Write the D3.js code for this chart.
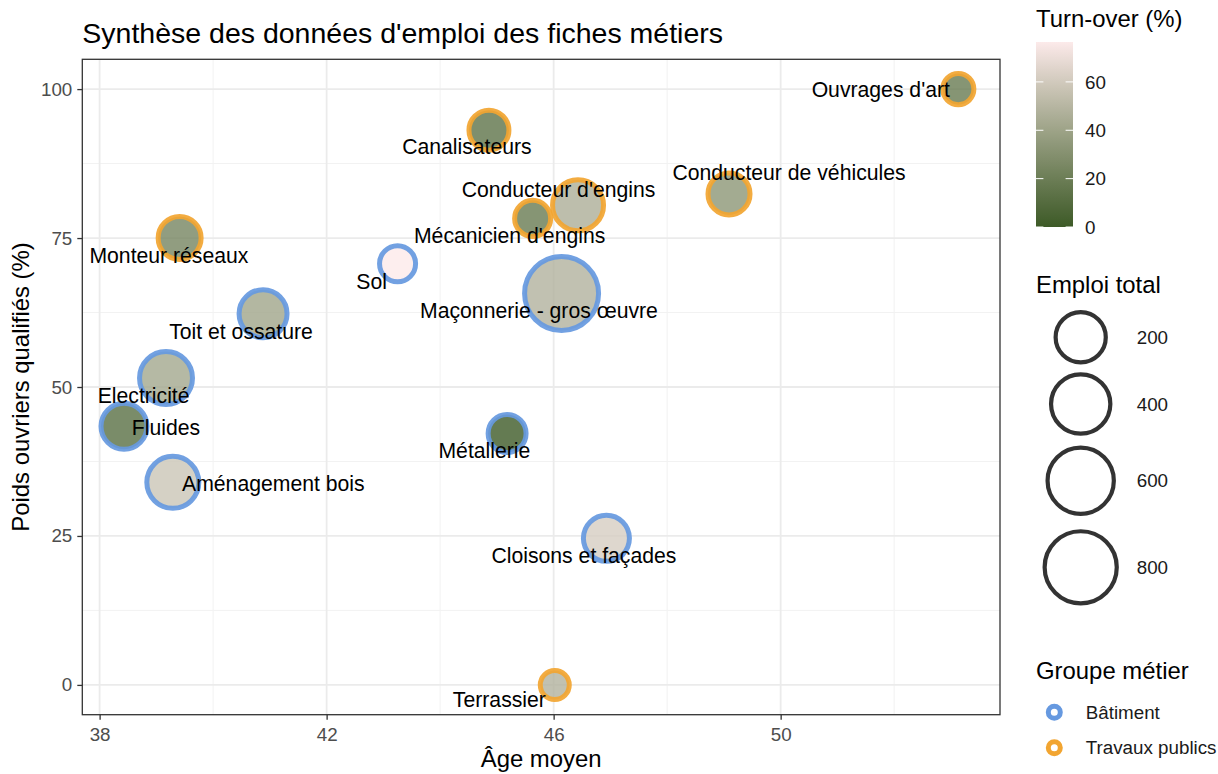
<!DOCTYPE html>
<html><head><meta charset="utf-8">
<script src="https://cdn.jsdelivr.net/npm/d3@7"></script>
<style>
body{margin:0;background:#fff;}
svg text{font-family:"Liberation Sans",Arial,Helvetica,sans-serif;}
</style></head>
<body><svg id="chart" width="1218" height="774"></svg>
<script>
// ---------- DATA ----------
const metiers = ["Ouvrages d'art","Canalisateurs","Conducteur de véhicules","Conducteur d'engins","Mécanicien d'engins","Monteur réseaux","Sol","Maçonnerie - gros œuvre","Toit et ossature","Electricité","Fluides","Métallerie","Aménagement bois","Cloisons et façades","Terrassier"];
const groupes = ["Travaux publics","Travaux publics","Travaux publics","Travaux publics","Travaux publics","Travaux publics","Bâtiment","Bâtiment","Bâtiment","Bâtiment","Bâtiment","Bâtiment","Bâtiment","Bâtiment","Travaux publics"];
const ageMoyen = [53.13,44.86,49.09,46.43,45.63,39.41,43.25,46.14,40.88,39.17,38.43,45.18,39.29,46.93,46.02];
const poidsQualifies = [100,93.1,82.4,80.5,78.3,75.0,70.7,65.7,62.3,51.5,43.4,42.2,34.0,24.6,0];
const emploiTotal = [12,61,82,216,31,93,31,870,163,254,133,44,235,133,10];
const turnover = [18,14,33,46,18,24,76.5,48,41,42,12,0,58,62,48];
const groupeLevels = ["Bâtiment","Travaux publics"];
const xTicks = [38,42,46,50];
const yTicks = [0,25,50,75,100];
const turnoverTicks = [0,20,40,60];
const emploiBreaks = [200,400,600,800];

// ---------- LAYOUT (pixels) ----------
const labelNudge = [[-77.5,7.7],[-22,24],[60,-14],[-19.5,-8.6],[-23,24.4],[-10.7,24.6],[-26,25],[-22.6,25],[-22,25.3],[-22.4,25],[42,9],[-22.7,25],[100.5,9],[-22.5,24.4],[-55.4,22.4]];
const panel = {left:82.3, right:1000, top:59.3, bottom:714.7};
const emploiLegendY = [337.3,404,480.7,567.3];
const FONT_LABEL = 21.2, FONT_TICK = 18.8, FONT_TITLE = 28.5, FONT_AXTITLE = 23.9;

const svg = d3.select("#chart");

// scales
const ext = (a) => { const [lo,hi] = d3.extent(a); const p=(hi-lo)*0.05; return [lo-p, hi+p]; };
const x = d3.scaleLinear().domain(ext(ageMoyen)).range([panel.left, panel.right]);
const y = d3.scaleLinear().domain(ext(poidsQualifies)).range([panel.bottom, panel.top]);
const fill = d3.scaleLinear().domain(d3.extent(turnover)).range(["#3D5A27","#FCEAEA"]).interpolate(d3.interpolateLab);
const colorG = d3.scaleOrdinal().domain(groupeLevels).range(["#6699E0","#F2A531"]);
const sizeT = d3.scaleLinear().domain(d3.extent(emploiTotal)).range([0,1]);
const sizeR = d3.scaleLinear().domain([0,1]).range([14.5,37]);
const r = v => sizeR(Math.sqrt(Math.max(0, sizeT(v))));

const data = metiers.map((m,i)=>({m, g:groupes[i], age:ageMoyen[i], p:poidsQualifies[i], e:emploiTotal[i], t:turnover[i], nudge:labelNudge[i]}));

// panel background + grid
svg.append("rect").attr("x",panel.left).attr("y",panel.top).attr("width",panel.right-panel.left).attr("height",panel.bottom-panel.top).attr("fill","#fff");
const grid = svg.append("g");
const xMinor = xTicks.map(v=>v+2);
const yMinor = yTicks.slice(0,-1).map(v=>v+12.5);
grid.selectAll(".xmin").data(xMinor).join("line").attr("x1",d=>x(d)).attr("x2",d=>x(d)).attr("y1",panel.top).attr("y2",panel.bottom).attr("stroke","#F2F2F2").attr("stroke-width",1);
grid.selectAll(".ymin").data(yMinor).join("line").attr("y1",d=>y(d)).attr("y2",d=>y(d)).attr("x1",panel.left).attr("x2",panel.right).attr("stroke","#F2F2F2").attr("stroke-width",1);
grid.selectAll(".xmaj").data(xTicks).join("line").attr("x1",d=>x(d)).attr("x2",d=>x(d)).attr("y1",panel.top).attr("y2",panel.bottom).attr("stroke","#EBEBEB").attr("stroke-width",1.8);
grid.selectAll(".ymaj").data(yTicks).join("line").attr("y1",d=>y(d)).attr("y2",d=>y(d)).attr("x1",panel.left).attr("x2",panel.right).attr("stroke","#EBEBEB").attr("stroke-width",1.8);

// bubbles
svg.append("g").selectAll("circle").data(data).join("circle")
  .attr("cx",d=>x(d.age)).attr("cy",d=>y(d.p)).attr("r",d=>r(d.e))
  .attr("fill",d=>fill(d.t)).attr("fill-opacity",0.8)
  .attr("stroke",d=>colorG(d.g)).attr("stroke-opacity",0.92).attr("stroke-width",5);

// labels
svg.append("g").selectAll("text").data(data).join("text")
  .attr("x",d=>x(d.age)+d.nudge[0]).attr("y",d=>y(d.p)+d.nudge[1])
  .attr("text-anchor","middle").attr("font-size",FONT_LABEL).attr("fill","#000").text(d=>d.m);

// panel border
svg.append("rect").attr("x",panel.left).attr("y",panel.top).attr("width",panel.right-panel.left).attr("height",panel.bottom-panel.top).attr("fill","none").attr("stroke","#333").attr("stroke-width",1.3);

// axes
const xAxis = svg.append("g").attr("transform",`translate(0,${panel.bottom})`)
  .call(d3.axisBottom(x).tickValues(xTicks).tickSize(5).tickPadding(6).tickFormat(d3.format("d")));
const yAxis = svg.append("g").attr("transform",`translate(${panel.left},0)`)
  .call(d3.axisLeft(y).tickValues(yTicks).tickSize(5).tickPadding(5).tickFormat(d3.format("d")));
[xAxis,yAxis].forEach(a=>{
  a.select(".domain").remove();
  a.selectAll(".tick line").attr("stroke","#333").attr("stroke-width",1.3);
  a.selectAll(".tick text").attr("fill","#4D4D4D").attr("font-size",FONT_TICK).attr("font-family","Liberation Sans, Arial, sans-serif");
});
xAxis.selectAll(".tick text").attr("dy",null).attr("y",26.3);

// titles
svg.append("text").attr("x",panel.left).attr("y",43).attr("font-size",FONT_TITLE).attr("fill","#000").text("Synthèse des données d'emploi des fiches métiers");
svg.append("text").attr("x",(panel.left+panel.right)/2).attr("y",767).attr("text-anchor","middle").attr("font-size",FONT_AXTITLE).attr("fill","#000").text("Âge moyen");
svg.append("text").attr("transform",`translate(29,${(panel.top+panel.bottom)/2}) rotate(-90)`).attr("text-anchor","middle").attr("font-size",FONT_AXTITLE).attr("fill","#000").text("Poids ouvriers qualifiés (%)");

// ---------- LEGEND: Turn-over ----------
const leg1 = svg.append("g");
leg1.append("text").attr("x",1036).attr("y",27).attr("font-size",FONT_AXTITLE).attr("fill","#000").text("Turn-over (%)");
const cb = {x:1036, w:37, top:42, bottom:227};
const cbY = d3.scaleLinear().domain(d3.extent(turnover)).range([cb.bottom, cb.top]);
const grad = svg.append("defs").append("linearGradient").attr("id","tgrad").attr("x1",0).attr("x2",0).attr("y1",1).attr("y2",0);
d3.range(0,1.0001,0.05).forEach(f=>{
  const v = fill.domain()[0] + f*(fill.domain()[1]-fill.domain()[0]);
  grad.append("stop").attr("offset",f).attr("stop-color",fill(v));
});
leg1.append("rect").attr("x",cb.x).attr("y",cb.top).attr("width",cb.w).attr("height",cb.bottom-cb.top).attr("fill","url(#tgrad)");
leg1.selectAll(".tl").data(turnoverTicks).join("line").attr("x1",cb.x).attr("x2",cb.x+7.4).attr("y1",d=>cbY(d)).attr("y2",d=>cbY(d)).attr("stroke","#fff").attr("stroke-width",1);
leg1.selectAll(".tr").data(turnoverTicks).join("line").attr("x1",cb.x+cb.w-7.4).attr("x2",cb.x+cb.w).attr("y1",d=>cbY(d)).attr("y2",d=>cbY(d)).attr("stroke","#fff").attr("stroke-width",1);
leg1.selectAll(".tt").data(turnoverTicks).join("text").attr("x",1085).attr("y",d=>cbY(d)).attr("dy","0.36em").attr("font-size",FONT_TICK).attr("fill","#1a1a1a").text(d=>d);

// ---------- LEGEND: Emploi total ----------
const leg2 = svg.append("g");
leg2.append("text").attr("x",1036).attr("y",293).attr("font-size",FONT_AXTITLE).attr("fill","#000").text("Emploi total");
leg2.selectAll("circle").data(emploiBreaks).join("circle").attr("cx",1080.7).attr("cy",(d,i)=>emploiLegendY[i]).attr("r",d=>r(d)).attr("fill","none").attr("stroke","#333").attr("stroke-width",4.2);
leg2.selectAll(".et").data(emploiBreaks).join("text").attr("x",1136.7).attr("y",(d,i)=>emploiLegendY[i]).attr("dy","0.36em").attr("font-size",FONT_TICK).attr("fill","#1a1a1a").text(d=>d);

// ---------- LEGEND: Groupe métier ----------
const leg3 = svg.append("g");
leg3.append("text").attr("x",1036).attr("y",679).attr("font-size",FONT_AXTITLE).attr("fill","#000").text("Groupe métier");
leg3.selectAll("circle").data(groupeLevels).join("circle").attr("cx",1054.3).attr("cy",(d,i)=>712.3+i*35.4).attr("r",6).attr("fill","#fff").attr("stroke",d=>colorG(d)).attr("stroke-width",5);
leg3.selectAll(".gt").data(groupeLevels).join("text").attr("x",1085.7).attr("y",(d,i)=>712.3+i*35.4).attr("dy","0.36em").attr("font-size",FONT_TICK).attr("fill","#1a1a1a").text(d=>d);
</script>
</body></html>
